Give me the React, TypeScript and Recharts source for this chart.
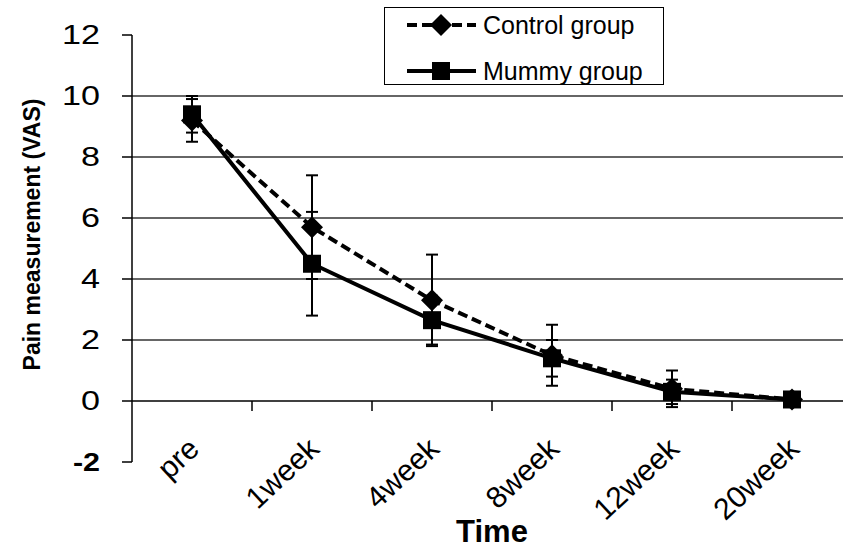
import React from "react";
import { LineChart, Line, XAxis, YAxis, ReferenceLine, ErrorBar, Label } from "recharts";

const times = ["pre", "1week", "4week", "8week", "12week", "20week"];
const controlMean = [9.2, 5.7, 3.3, 1.5, 0.4, 0.05];
const controlErr = [0.7, 1.7, 1.5, 1.0, 0.6, 0];
const mummyMean = [9.4, 4.5, 2.65, 1.4, 0.3, 0.05];
const mummyErr = [0.6, 1.7, 0.8, 0.6, 0.4, 0];
const seriesNames = ["Control group", "Mummy group"];
const yTicks = [-2, 0, 2, 4, 6, 8, 10, 12];
const gridValues = [2, 4, 6, 8, 10];

const data = times.map((time, i) => ({
  time,
  control: controlMean[i],
  controlErr: controlErr[i],
  mummy: mummyMean[i],
  mummyErr: mummyErr[i],
}));

const FONT = "Arial, 'Liberation Sans', sans-serif";

const Diamond = (props: any) => {
  const { cx, cy } = props;
  if (cx == null || cy == null) return null;
  const r = 11;
  return <path d={`M${cx} ${cy - r}L${cx + r} ${cy}L${cx} ${cy + r}L${cx - r} ${cy}Z`} fill="#000" />;
};

const Square = (props: any) => {
  const { cx, cy } = props;
  if (cx == null || cy == null) return null;
  return <rect x={cx - 9} y={cy - 9} width={18} height={18} fill="#000" />;
};

// the source picture is a little stretched sideways, so y labels get a horizontal scale
const YTick = (props: any) => {
  const { x, y, payload } = props;
  const neg = payload.value < 0;
  return (
    <text
      transform={`translate(${x}, ${y}) scale(1.22, 1)`}
      textAnchor="end"
      dominantBaseline="central"
      fontFamily={FONT}
      fontSize={neg ? 25 : 28}
      fontWeight={neg ? "bold" : "normal"}
      fill="#000"
    >
      {payload.value}
    </text>
  );
};

const XTick = (props: any) => {
  const { x, y, payload } = props;
  const ax = x + 9;
  const ay = y - 11;
  return (
    <text
      transform={`translate(${ax}, ${ay}) rotate(-43)`}
      textAnchor="end"
      fontFamily={FONT}
      fontSize={30}
      fill="#000"
    >
      {payload.value}
    </text>
  );
};

// small tick marks between categories on the zero line
const BoundaryTicks = (props: any) => {
  const vb = props.viewBox;
  if (!vb) return null;
  const step = vb.width / times.length;
  return (
    <g>
      {times.map((t, k) => (
        <line key={t} x1={vb.x + step * (k + 1)} x2={vb.x + step * (k + 1)} y1={vb.y} y2={vb.y + 10} stroke="#000" strokeWidth={1.5} />
      ))}
    </g>
  );
};

const YTitle = (props: any) => {
  const vb = props.viewBox || { x: 32, y: 35, height: 427 };
  const cx = vb.x;
  const cy = vb.y + vb.height / 2 - 14;
  return (
    <text
      transform={`translate(${cx}, ${cy}) rotate(-90)`}
      textAnchor="middle"
      dominantBaseline="central"
      fontFamily={FONT}
      fontSize={23}
      fontWeight="bold"
      fill="#000"
    >
      Pain measurement (VAS)
    </text>
  );
};

const LegendBox = () => (
  <div
    style={{
      position: "absolute",
      left: 384,
      top: 7,
      width: 280,
      height: 78,
      border: "1.5px solid #000",
      boxSizing: "border-box",
      background: "#fff",
    }}
  >
    <svg width={278} height={76} style={{ display: "block" }}>
      <line x1={22} x2={91} y1={17} y2={17} stroke="#000" strokeWidth={4} strokeDasharray="10 5" />
      <Diamond cx={56} cy={17} />
      <text x={98} y={17} dominantBaseline="central" fontFamily={FONT} fontSize={25} fill="#000">
        {seriesNames[0]}
      </text>
      <line x1={22} x2={91} y1={63} y2={63} stroke="#000" strokeWidth={4} />
      <Square cx={56} cy={63} />
      <text x={98} y={63} dominantBaseline="central" fontFamily={FONT} fontSize={25} fill="#000">
        {seriesNames[1]}
      </text>
    </svg>
  </div>
);

export default function App() {
  return (
    <div style={{ position: "absolute", left: 0, top: 0, width: 843, height: 548, overflow: "hidden", background: "#fff" }}>
      <LineChart width={852} height={548} data={data} margin={{ top: 35, right: 0, bottom: 0, left: 32 }}>
        <XAxis
          dataKey="time"
          scale="band"
          height={86}
          axisLine={false}
          tickLine={false}
          tickSize={0}
          tickMargin={0}
          interval={0}
          tick={<XTick />}
        >
          <Label value="Time" position="insideBottom" offset={6} fontFamily={FONT} fontSize={31} fontWeight="bold" fill="#000" />
        </XAxis>
        <YAxis
          type="number"
          domain={[-2, 12]}
          ticks={yTicks}
          interval={0}
          width={100}
          tickSize={10}
          tickMargin={22}
          axisLine={{ stroke: "#000", strokeWidth: 1.5 }}
          tickLine={{ stroke: "#000", strokeWidth: 1.5 }}
          tick={<YTick />}
        >
          <Label content={<YTitle />} />
        </YAxis>
        {gridValues.map((v) => (
          <ReferenceLine key={v} y={v} stroke="#333" strokeWidth={1.5} />
        ))}
        <ReferenceLine y={0} stroke="#000" strokeWidth={1.5} label={<BoundaryTicks />} />
        <Line
          dataKey="control"
          name={seriesNames[0]}
          stroke="#000"
          strokeWidth={4}
          strokeDasharray="10 5"
          dot={<Diamond />}
          activeDot={false}
          isAnimationActive={false}
        >
          <ErrorBar dataKey="controlErr" width={6} stroke="#000" strokeWidth={2} isAnimationActive={false} />
        </Line>
        <Line
          dataKey="mummy"
          name={seriesNames[1]}
          stroke="#000"
          strokeWidth={4}
          dot={<Square />}
          activeDot={false}
          isAnimationActive={false}
        >
          <ErrorBar dataKey="mummyErr" width={6} stroke="#000" strokeWidth={2} isAnimationActive={false} />
        </Line>
      </LineChart>
      <LegendBox />
    </div>
  );
}
